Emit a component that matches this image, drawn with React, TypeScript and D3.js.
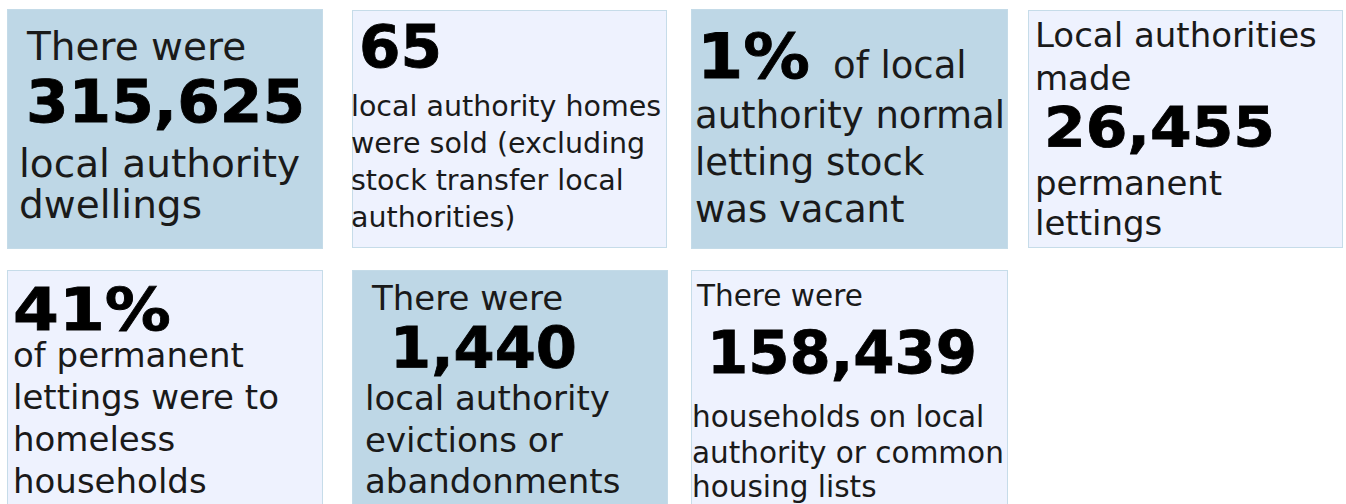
import React from "react";
import * as d3 from "d3";

// ---------- content ----------
const statValues = ["315,625", "65", "1%", "26,455", "41%", "1,440", "158,439"];
const leadLines: string[][] = [
  ["There were"],
  [],
  [],
  ["Local authorities", "made"],
  [],
  ["There were"],
  ["There were"],
];
const inlineAfter = ["", "", "of local", "", "", "", ""];
const trailLines: string[][] = [
  ["local authority", "dwellings"],
  ["local authority homes", "were sold (excluding", "stock transfer local", "authorities)"],
  ["authority normal", "letting stock", "was vacant"],
  ["permanent", "lettings"],
  ["of permanent", "lettings were to", "homeless", "households"],
  ["local authority", "evictions or", "abandonments"],
  ["households on local", "authority or common", "housing lists"],
];
const cardShade = ["dark", "light", "dark", "light", "light", "dark", "light"];

// ---------- layout (positions / sizes / styles) ----------
const cardLeft = [7, 352, 691, 1028, 7, 352, 691];
const cardTop = [9, 10, 9, 10, 270, 270, 270];
const cardWidth = [316, 315, 317, 315, 316, 316, 317];
const cardHeight = [240, 238, 240, 238, 245, 245, 245];
const textSize = [39, 28.5, 37, 34, 34, 34, 29.5];
const numSize = [58, 58, 62, 56, 58, 57, 58];
const numLength = [279, 83, 113, 231, 158, 187, 270];
const leadDx = [[20], [], [], [7, 7], [], [20], [6]];
const leadY = [[51], [], [], [37, 80], [], [40], [36]];
const numDx = [19, 7, 6, 16, 6, 38, 16];
const numY = [113, 57, 69, 136, 60, 98, 103];
const inlineDx = [0, 0, 142, 0, 0, 0, 0];
const trailDx = [12, -1, 4, 7, 6, 13, 1];
const trailY = [
  [168, 209],
  [106, 143, 180, 217],
  [119, 166, 213],
  [185, 225],
  [97, 139, 181, 223],
  [140, 182, 223],
  [157, 193, 227],
];

const fillScale = d3
  .scaleOrdinal<string, string>()
  .domain(["dark", "light"])
  .range(["#bed7e6", "#eef2fe"]);
const strokeScale = d3
  .scaleOrdinal<string, string>()
  .domain(["dark", "light"])
  .range(["#c4dbe8", "#c6dce9"]);

const FONT = "'DejaVu Sans', Verdana, sans-serif";

export default function App() {
  return (
    <svg
      width={1346}
      height={504}
      style={{ position: "absolute", left: 0, top: 0, background: "#ffffff" }}
      fontFamily={FONT}
    >
      {statValues.map((v, i) => {
        const x0 = cardLeft[i];
        const y0 = cardTop[i];
        return (
          <g key={i} transform={`translate(${x0},${y0})`}>
            <rect
              x={0.5}
              y={0.5}
              width={cardWidth[i] - 1}
              height={cardHeight[i] - 1}
              fill={fillScale(cardShade[i])}
              stroke={strokeScale(cardShade[i])}
              strokeWidth={1}
            />
            {leadLines[i].map((t, j) => (
              <text
                key={"l" + j}
                x={leadDx[i][j]}
                y={leadY[i][j]}
                fontSize={textSize[i]}
                fill="#1a1a1a"
              >
                {t}
              </text>
            ))}
            <text
              x={numDx[i]}
              y={numY[i]}
              fontSize={numSize[i]}
              fontWeight="bold"
              fill="#000"
              stroke="#000"
              strokeWidth={0.8}
              textLength={numLength[i]}
              lengthAdjust="spacingAndGlyphs"
            >
              {v}
            </text>
            {inlineAfter[i] && (
              <text x={inlineDx[i]} y={numY[i]} fontSize={textSize[i]} fill="#1a1a1a">
                {inlineAfter[i]}
              </text>
            )}
            {trailLines[i].map((t, j) => (
              <text
                key={"t" + j}
                x={trailDx[i]}
                y={trailY[i][j]}
                fontSize={textSize[i]}
                fill="#1a1a1a"
              >
                {t}
              </text>
            ))}
          </g>
        );
      })}
    </svg>
  );
}
